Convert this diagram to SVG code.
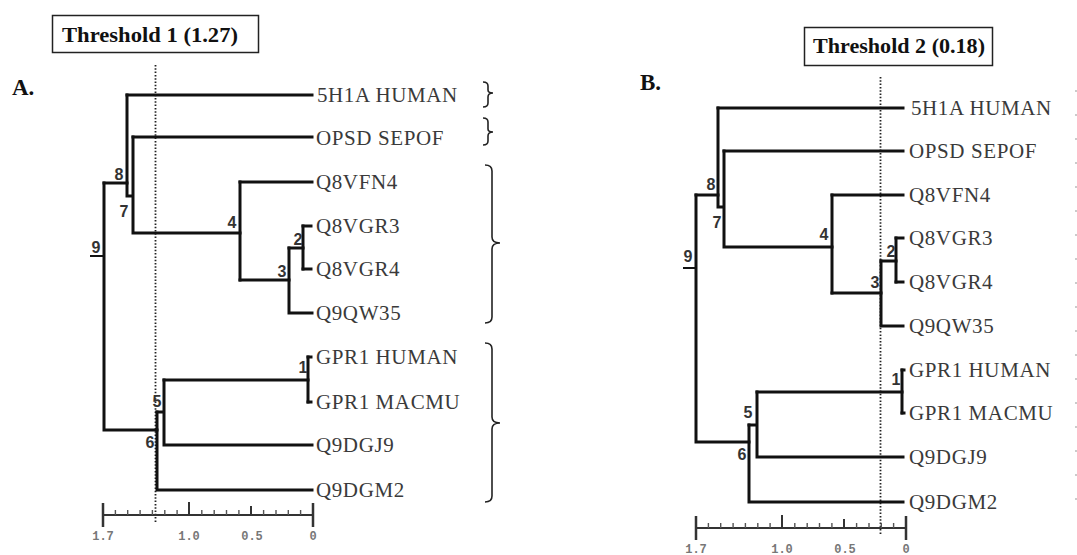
<svg xmlns="http://www.w3.org/2000/svg" width="1077" height="555" viewBox="0 0 1077 555">
<style>
  .br{fill:none;stroke:#111;stroke-width:3;stroke-linecap:square}
  .stub{fill:none;stroke:#111;stroke-width:2}
  .brace{fill:none;stroke:#222;stroke-width:1.6}
  .thr{fill:none;stroke:#222;stroke-width:1.8;stroke-dasharray:1.5 1.8}
  .leaf{font-family:"Liberation Serif","Times New Roman",serif;font-size:21px;letter-spacing:0.6px;fill:#3a3a3a}
  .num{font-family:"Liberation Sans",Arial,sans-serif;font-size:16px;font-weight:bold;fill:#333;text-anchor:middle}
  .title{font-family:"Liberation Serif","Times New Roman",serif;font-weight:bold;fill:#111}
  .box{fill:#fff;stroke:#222;stroke-width:1.5}
  .axis{fill:none;stroke:#333;stroke-width:2}
  .big{fill:none;stroke:#333;stroke-width:2.5}
  .minor{fill:none;stroke:#555;stroke-width:1.4}
  .sc{font-family:"Liberation Mono","Courier New",monospace;font-size:12px;font-weight:bold;fill:#777;text-anchor:middle}
</style>
<rect width="1077" height="555" fill="#fff"/>

<g id="threshold1">
  <rect class="box" x="52.5" y="15.5" width="206" height="37"/>
  <text class="title" x="62" y="42" font-size="20" textLength="176" lengthAdjust="spacingAndGlyphs">Threshold 1 (1.27)</text>
</g>
<g id="labelA"><text class="title" x="12" y="95" font-size="23">A.</text></g>

<g id="threshold2">
  <rect class="box" x="804.5" y="27.5" width="188" height="38"/>
  <text class="title" x="813" y="53" font-size="20" textLength="172" lengthAdjust="spacingAndGlyphs">Threshold 2 (0.18)</text>
</g>
<g id="labelB"><text class="title" x="640" y="90" font-size="23">B.</text></g>

<g id="thresholds">
  <line class="thr" x1="155.5" y1="65" x2="155.5" y2="523"/>
  <line class="thr" x1="880.5" y1="77" x2="880.5" y2="535"/>
  <line x1="1076" y1="90" x2="1076" y2="520" stroke="#aaa" stroke-width="1.2" stroke-dasharray="2 22"/>
</g>

<g id="connectors">
  <g id="treeA-edges">
    <path class="br" d="M127,95 H312"/>
    <path class="br" d="M133,137 H312"/>
    <path class="br" d="M127,95 V196 H131"/>
    <path class="br" d="M133,137 V233 H240"/>
    <path class="br" d="M104,183 H127"/>
    <path class="br" d="M240,182 V280"/>
    <path class="br" d="M240,182 H312"/>
    <path class="br" d="M240,280 H289"/>
    <path class="br" d="M289,248 V313 H312"/>
    <path class="br" d="M289,248 H303"/>
    <path class="br" d="M303,226 V269"/>
    <path class="br" d="M303,226 H311"/>
    <path class="br" d="M303,269 H311"/>
    <path class="br" d="M104,183 V430 H157"/>
    <path class="br" d="M157,412 V490 H312"/>
    <path class="br" d="M157,412 H163"/>
    <path class="br" d="M164,380 V445 H312"/>
    <path class="br" d="M164,380 H308"/>
    <path class="br" d="M308,357 V402"/>
    <path class="br" d="M308,357 H311"/>
    <path class="br" d="M308,402 H311"/>
    <path class="stub" d="M90,256 H104"/>
  </g>
  <g id="treeB-edges">
    <path class="br" d="M718,108 H903"/>
    <path class="br" d="M724,151 H903"/>
    <path class="br" d="M718,108 V207 H722"/>
    <path class="br" d="M724,151 V247 H832"/>
    <path class="br" d="M696,195 H718"/>
    <path class="br" d="M832,195 V293"/>
    <path class="br" d="M832,195 H903"/>
    <path class="br" d="M832,293 H881"/>
    <path class="br" d="M881,261 V326 H903"/>
    <path class="br" d="M881,261 H896"/>
    <path class="br" d="M896,238 V282"/>
    <path class="br" d="M896,238 H903"/>
    <path class="br" d="M896,282 H903"/>
    <path class="br" d="M696,195 V442 H749"/>
    <path class="br" d="M749,425 V502 H903"/>
    <path class="br" d="M749,425 H756"/>
    <path class="br" d="M757,392 V457 H903"/>
    <path class="br" d="M757,392 H902"/>
    <path class="br" d="M902,370 V413"/>
    <path class="br" d="M902,370 H904"/>
    <path class="br" d="M902,413 H904"/>
    <path class="stub" d="M683,268 H696"/>
  </g>
  <g id="bracesA">
    <path class="brace" d="M483,82 Q488,82 488,86 V90 Q488,93 493,93 Q488,93 488,97 V103 Q488,107 483,107"/>
    <path class="brace" d="M483,118 Q488,118 488,122 V129 Q488,132 493,132 Q488,132 488,136 V141 Q488,145 483,145"/>
    <path class="brace" d="M485,165 Q492,165 492,171 V237 Q492,243 500,243 Q492,243 492,249 V317 Q492,323 485,323"/>
    <path class="brace" d="M485,343 Q492,343 492,349 V417 Q492,423 500,423 Q492,423 492,429 V496 Q492,502 485,502"/>
  </g>
</g>

<g id="treeA-nodes">
  <g id="A-n1"><text class="num" x="303" y="373">1</text></g>
  <g id="A-n2"><text class="num" x="298" y="245">2</text></g>
  <g id="A-n3"><text class="num" x="282" y="277">3</text></g>
  <g id="A-n4"><text class="num" x="232" y="228">4</text></g>
  <g id="A-n5"><text class="num" x="157" y="407">5</text></g>
  <g id="A-n6"><text class="num" x="150" y="448">6</text></g>
  <g id="A-n7"><text class="num" x="124" y="217">7</text></g>
  <g id="A-n8"><text class="num" x="119" y="180">8</text></g>
  <g id="A-n9"><text class="num" x="96" y="253">9</text></g>
  <g id="A-leaf-5H1A"><text class="leaf" x="317" y="102">5H1A HUMAN</text></g>
  <g id="A-leaf-OPSD"><text class="leaf" x="316" y="145">OPSD SEPOF</text></g>
  <g id="A-leaf-Q8VFN4"><text class="leaf" x="316" y="189">Q8VFN4</text></g>
  <g id="A-leaf-Q8VGR3"><text class="leaf" x="316" y="233">Q8VGR3</text></g>
  <g id="A-leaf-Q8VGR4"><text class="leaf" x="316" y="276">Q8VGR4</text></g>
  <g id="A-leaf-Q9QW35"><text class="leaf" x="316" y="320">Q9QW35</text></g>
  <g id="A-leaf-GPR1H"><text class="leaf" x="316" y="364">GPR1 HUMAN</text></g>
  <g id="A-leaf-GPR1M"><text class="leaf" x="316" y="409">GPR1 MACMU</text></g>
  <g id="A-leaf-Q9DGJ9"><text class="leaf" x="316" y="452">Q9DGJ9</text></g>
  <g id="A-leaf-Q9DGM2"><text class="leaf" x="316" y="497">Q9DGM2</text></g>
</g>

<g id="treeB-nodes">
  <g id="B-n1"><text class="num" x="896" y="385">1</text></g>
  <g id="B-n2"><text class="num" x="891" y="257">2</text></g>
  <g id="B-n3"><text class="num" x="875" y="288">3</text></g>
  <g id="B-n4"><text class="num" x="824" y="240">4</text></g>
  <g id="B-n5"><text class="num" x="748" y="418">5</text></g>
  <g id="B-n6"><text class="num" x="742" y="460">6</text></g>
  <g id="B-n7"><text class="num" x="717" y="228">7</text></g>
  <g id="B-n8"><text class="num" x="711" y="190">8</text></g>
  <g id="B-n9"><text class="num" x="688" y="262">9</text></g>
  <g id="B-leaf-5H1A"><text class="leaf" x="911" y="115">5H1A HUMAN</text></g>
  <g id="B-leaf-OPSD"><text class="leaf" x="909" y="158">OPSD SEPOF</text></g>
  <g id="B-leaf-Q8VFN4"><text class="leaf" x="909" y="202">Q8VFN4</text></g>
  <g id="B-leaf-Q8VGR3"><text class="leaf" x="909" y="245">Q8VGR3</text></g>
  <g id="B-leaf-Q8VGR4"><text class="leaf" x="909" y="289">Q8VGR4</text></g>
  <g id="B-leaf-Q9QW35"><text class="leaf" x="909" y="333">Q9QW35</text></g>
  <g id="B-leaf-GPR1H"><text class="leaf" x="909" y="377">GPR1 HUMAN</text></g>
  <g id="B-leaf-GPR1M"><text class="leaf" x="909" y="420">GPR1 MACMU</text></g>
  <g id="B-leaf-Q9DGJ9"><text class="leaf" x="909" y="464">Q9DGJ9</text></g>
  <g id="B-leaf-Q9DGM2"><text class="leaf" x="909" y="509">Q9DGM2</text></g>
</g>

<g id="scaleA">
  <path class="axis" d="M103,515 H313"/>
  <path class="big" d="M103,503 V527 M313,503 V527"/>
  <path class="axis" d="M189,502 V515 M251,506 V515"/>
  <path class="minor" d="M300.6,510 V515 M288.3,510 V515 M276,510 V515 M263.6,510 V515 M238.9,510 V515 M226.5,510 V515 M214.2,510 V515 M201.8,510 V515 M177.1,510 V515 M164.8,510 V515 M152.4,510 V515 M140.1,510 V515 M127.7,510 V515 M115.4,510 V515"/>
  <text class="sc" x="103" y="540">1.7</text>
  <text class="sc" x="189" y="540">1.0</text>
  <text class="sc" x="252" y="540">0.5</text>
  <text class="sc" x="313" y="540">0</text>
</g>

<g id="scaleB">
  <path class="axis" d="M696,528 H906"/>
  <path class="big" d="M696,516 V540 M906,516 V540"/>
  <path class="axis" d="M782,515 V528 M844,519 V528"/>
  <path class="minor" d="M893.6,523 V528 M881.3,523 V528 M869,523 V528 M856.6,523 V528 M831.9,523 V528 M819.5,523 V528 M807.2,523 V528 M794.8,523 V528 M770.1,523 V528 M757.8,523 V528 M745.4,523 V528 M733.1,523 V528 M720.7,523 V528 M708.4,523 V528"/>
  <text class="sc" x="696" y="553">1.7</text>
  <text class="sc" x="782" y="553">1.0</text>
  <text class="sc" x="845" y="553">0.5</text>
  <text class="sc" x="906" y="553">0</text>
</g>
</svg>
